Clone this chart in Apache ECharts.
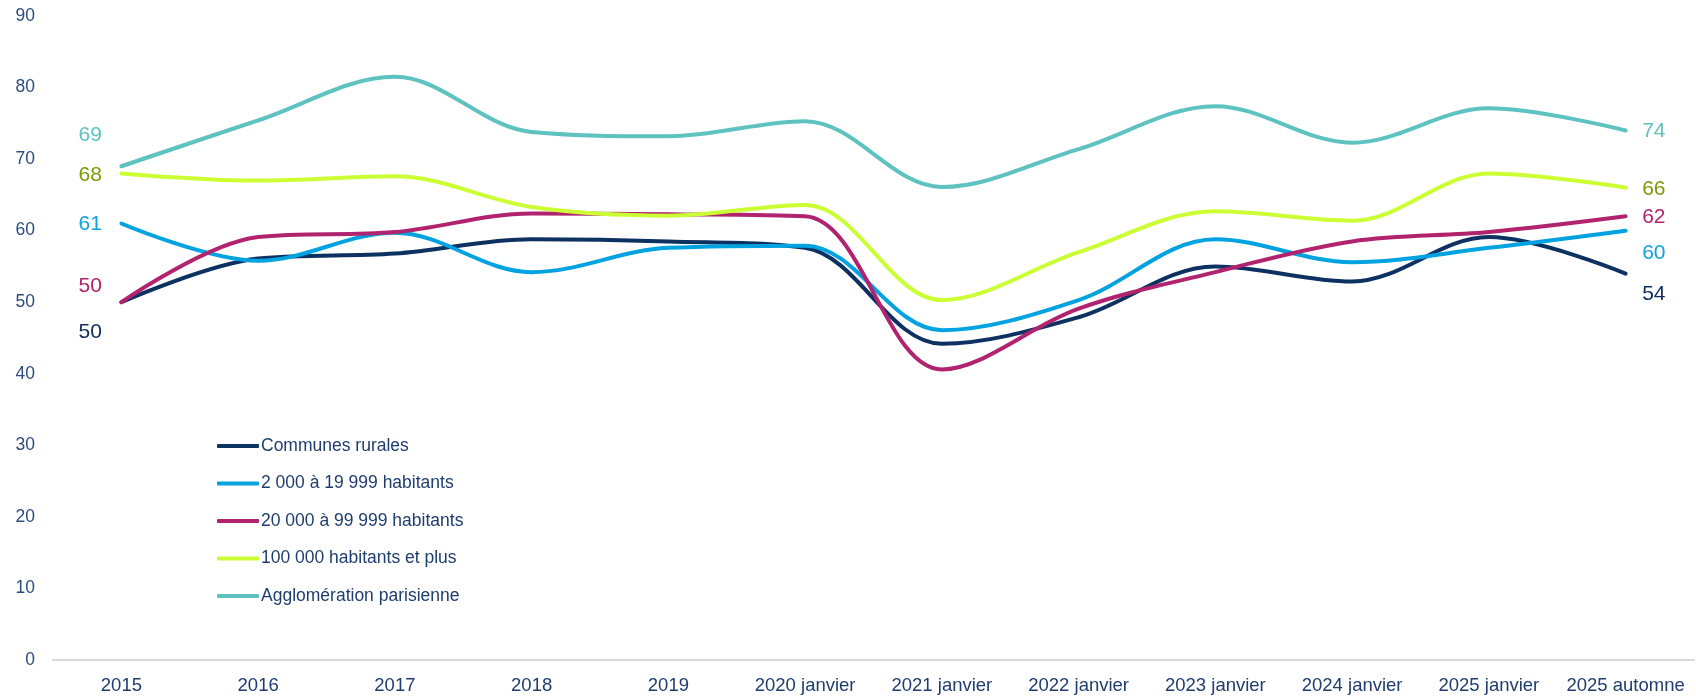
<!DOCTYPE html>
<html>
<head>
<meta charset="utf-8">
<script src="https://cdn.jsdelivr.net/npm/echarts@6/dist/echarts.min.js"></script>
<style>
  html, body { margin: 0; padding: 0; background: #ffffff; }
  #chart { width: 1696px; height: 698px; }
</style>
</head>
<body>
<div id="chart"></div>
<script>
// Survey periods
const categories = ['2015', '2016', '2017', '2018', '2019', '2020 janvier', '2021 janvier',
  '2022 janvier', '2023 janvier', '2024 janvier', '2025 janvier', '2025 automne'];

// Values by size of municipality
const rurales        = [50, 56.1, 56.8, 58.8, 58.5, 57.6, 44.2, 47.9, 55.0, 52.9, 59.1, 54];
const petitesVilles  = [61, 55.8, 59.7, 54.2, 57.6, 57.9, 46.1, 50.3, 58.8, 55.6, 57.6, 60];
const moyennesVilles = [50, 59.1, 59.8, 62.4, 62.3, 62.0, 40.6, 49.1, 54.2, 58.5, 59.8, 62];
const grandesVilles  = [68, 67.0, 67.6, 63.3, 62.1, 63.6, 50.3, 57.0, 62.7, 61.4, 68.0, 66];
const parisienne     = [69, 75.4, 81.5, 73.8, 73.2, 75.3, 66.1, 71.4, 77.4, 72.3, 77.1, 74];

const seriesNames = ['Communes rurales', '2 000 à 19 999 habitants', '20 000 à 99 999 habitants',
  '100 000 habitants et plus', 'Agglomération parisienne'];
const yTicks = [0, 10, 20, 30, 40, 50, 60, 70, 80, 90];

const lineColors  = ['#0D3161', '#00A3E0', '#B1236E', '#CCFF33', '#5EC2C0'];
const labelColors = ['#0E2D5B', '#0FA3E0', '#B0236C', '#7A9A06', '#5EC2C0'];
// vertical nudges for the first / last value labels so they do not collide
const startOffsets = [30, 1, -16, 2, -31];
const endOffsets   = [21, 23, 1, 1, 1];

const FONT = '"Liberation Sans", Arial, sans-serif';
const TEXT = '#1F3D6E';

function buildData(values, idx) {
  const last = values.length - 1;
  return values.map((v, i) => {
    if (i === 0) {
      return { value: v, label: { show: true, position: 'left', distance: 19,
        offset: [0, startOffsets[idx]], formatter: p => Math.round(p.value) } };
    }
    if (i === last) {
      return { value: v, label: { show: true, position: 'right', distance: 16,
        offset: [0, endOffsets[idx]], formatter: p => Math.round(p.value) } };
    }
    return v;
  });
}

const allValues = [rurales, petitesVilles, moyennesVilles, grandesVilles, parisienne];

const chart = echarts.init(document.getElementById('chart'), null, { renderer: 'canvas' });

chart.setOption({
  backgroundColor: '#ffffff',
  animation: false,
  grid: { left: 53, right: 2, top: 16, bottom: 38, containLabel: false },
  legend: {
    orient: 'vertical',
    left: 212,
    top: 431,
    itemWidth: 42,
    itemHeight: 4,
    itemGap: 17.5,
    icon: 'roundRect',
    data: seriesNames,
    textStyle: { fontFamily: FONT, fontSize: 17.5, color: TEXT, lineHeight: 20, padding: [0, 0, 0, -3] }
  },
  xAxis: {
    type: 'category',
    data: categories,
    boundaryGap: true,
    axisLine: { show: true, lineStyle: { color: '#D9D9D9', width: 2 } },
    axisTick: { show: false },
    axisLabel: { fontFamily: FONT, fontSize: 18.5, color: TEXT, margin: 16, interval: 0 }
  },
  yAxis: {
    type: 'value',
    min: yTicks[0],
    max: yTicks[yTicks.length - 1],
    interval: 10,
    axisLine: { show: false },
    axisTick: { show: false },
    splitLine: { show: false },
    axisLabel: { fontFamily: FONT, fontSize: 17.5, color: '#2B4C7E', margin: 18 }
  },
  series: allValues.map((vals, idx) => ({
    name: seriesNames[idx],
    type: 'line',
    smooth: 0.35,
    data: buildData(vals, idx),
    symbol: 'circle',
    symbolSize: 1,
    showSymbol: true,
    lineStyle: { color: lineColors[idx], width: 4, cap: 'round', join: 'round' },
    itemStyle: { color: lineColors[idx] },
    label: { fontFamily: FONT, fontSize: 21, color: labelColors[idx] },
    emphasis: { disabled: true },
    z: 2 + idx
  }))
});
</script>
</body>
</html>
